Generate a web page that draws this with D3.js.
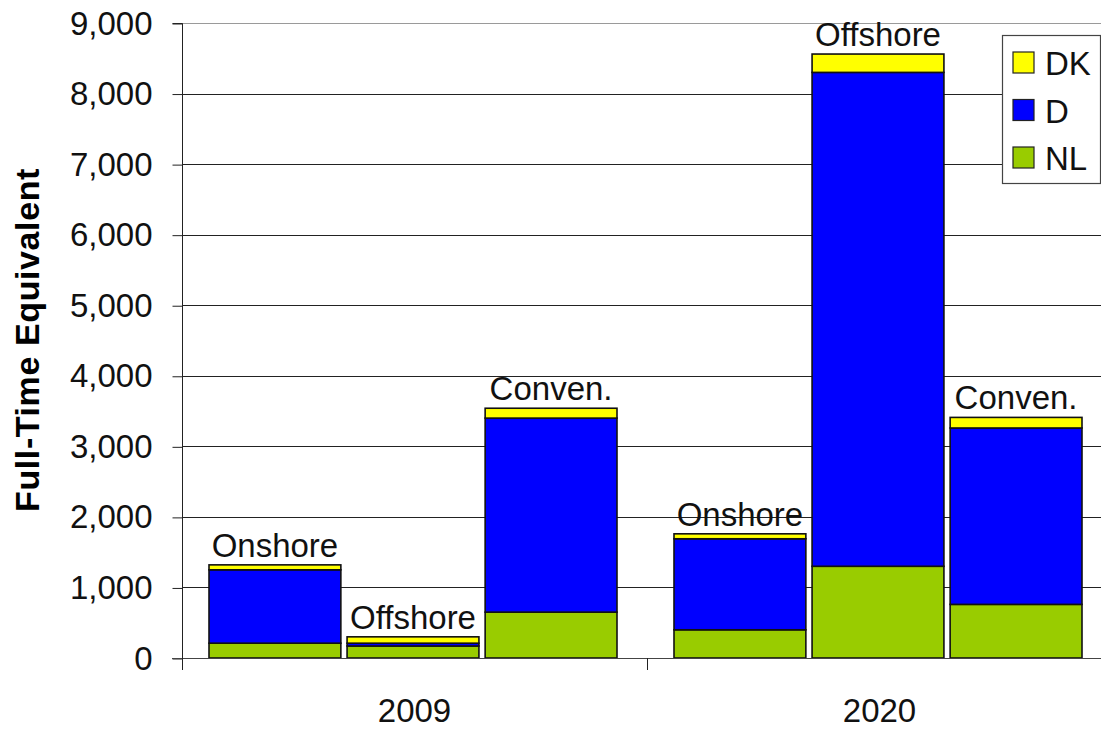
<!DOCTYPE html>
<html>
<head>
<meta charset="utf-8">
<script src="https://cdn.jsdelivr.net/npm/d3@7/dist/d3.min.js"></script>
<style>
  html, body { margin: 0; padding: 0; background: #fff; }
  svg { display: block; font-family: "Liberation Sans", Arial, sans-serif; }
</style>
</head>
<body>
<svg id="chart" width="1101" height="729"></svg>
<script>
// Employment (full-time equivalent) by year, sector and country
const years = ["2009", "2020"];
const sectors = ["Onshore", "Offshore", "Conven."];
const seriesNames = ["NL", "D", "DK"];          // stacked bottom → top
const seriesColors = ["#99CC00", "#0000FF", "#FFFF00"];
// values listed per year, per sector: 2009 Onshore, Offshore, Conven., 2020 Onshore, Offshore, Conven.
const valuesNL = [210, 170, 650, 400, 1300, 760];
const valuesD  = [1040, 40, 2750, 1290, 7000, 2500];
const valuesDK = [70, 90, 140, 70, 260, 150];
const yTicks = [0, 1000, 2000, 3000, 4000, 5000, 6000, 7000, 8000, 9000];
const legendOrder = ["DK", "D", "NL"];

const svg = d3.select("#chart");
const W = 1101;

// rows for the stack
const rows = [];
years.forEach((yr, i) => sectors.forEach((s, j) => {
  const k = i * sectors.length + j;
  rows.push({ year: yr, sector: s, NL: valuesNL[k], D: valuesD[k], DK: valuesDK[k] });
}));

const x0 = d3.scaleBand().domain(years).range([182, 1112]).padding(0);
const x1 = d3.scaleBand().domain(sectors).range([27, 435]).paddingInner(0.045).paddingOuter(0);
const y = d3.scaleLinear().domain([0, 9000]).range([658, 23]);

const fmt = d3.format(",");

// horizontal gridlines
svg.append("g").selectAll("line").data(yTicks.filter(d => d > 0)).join("line")
  .attr("x1", 182).attr("x2", W)
  .attr("y1", d => Math.round(y(d)) + 0.5).attr("y2", d => Math.round(y(d)) + 0.5)
  .attr("stroke", d => d === 9000 ? "#9a9a9a" : "#222").attr("stroke-width", 1);

// y axis
const yAxis = d3.axisLeft(y).tickValues(yTicks).tickFormat(fmt).tickSize(10).tickPadding(20);
const gy = svg.append("g").attr("transform", "translate(182.5,0.5)").call(yAxis);
gy.select(".domain").attr("stroke", "#222").attr("d", `M-10,${y(9000)}H0V${y(0)}`);
gy.selectAll(".tick line").attr("stroke", "#222");
gy.selectAll(".tick text").attr("font-size", 33).attr("fill", "#111")
  .attr("font-family", "Liberation Sans, Arial, sans-serif");

// stacked bars
const stack = d3.stack().keys(seriesNames);
const layers = stack(rows);
const gBars = svg.append("g");
layers.forEach((layer, li) => {
  gBars.append("g").selectAll("rect").data(layer).join("rect")
    .attr("x", d => x0(d.data.year) + x1(d.data.sector))
    .attr("width", x1.bandwidth())
    .attr("y", d => y(d[1]))
    .attr("height", d => y(d[0]) - y(d[1]))
    .attr("fill", seriesColors[li])
    .attr("stroke", "#111").attr("stroke-width", 1.6);
});

// x axis baseline and category ticks
svg.append("line").attr("x1", 172).attr("x2", W)
  .attr("y1", y(0) + 0.5).attr("y2", y(0) + 0.5).attr("stroke", "#444").attr("stroke-width", 1.2);
svg.append("g").selectAll("line").data(years.concat(["end"])).join("line")
  .attr("x1", (d, i) => 182.5 + i * x0.bandwidth()).attr("x2", (d, i) => 182.5 + i * x0.bandwidth())
  .attr("y1", y(0)).attr("y2", y(0) + 12).attr("stroke", "#222");

// year labels
svg.append("g").selectAll("text").data(years).join("text")
  .attr("x", d => x0(d) + x0.bandwidth() / 2)
  .attr("y", 722).attr("text-anchor", "middle")
  .attr("font-size", 33).attr("fill", "#111").text(d => d);

// sector labels above each bar
svg.append("g").selectAll("text").data(rows).join("text")
  .attr("x", d => x0(d.year) + x1(d.sector) + x1.bandwidth() / 2)
  .attr("y", d => y(d.NL + d.D + d.DK) - 8)
  .attr("text-anchor", "middle").attr("font-size", 33).attr("fill", "#111")
  .text(d => d.sector);

// y axis title
svg.append("text").attr("transform", "translate(39,340) rotate(-90)")
  .attr("text-anchor", "middle").attr("font-size", 34).attr("font-weight", "bold")
  .attr("letter-spacing", 0.6).attr("fill", "#000").text("Full-Time Equivalent");

// legend
const lg = svg.append("g");
lg.append("rect").attr("x", 1002.5).attr("y", 35.5).attr("width", 98).attr("height", 148)
  .attr("fill", "#fff").attr("stroke", "#444").attr("stroke-width", 1.2);
const colorOf = name => seriesColors[seriesNames.indexOf(name)];
const item = lg.selectAll("g.item").data(legendOrder).join("g")
  .attr("transform", (d, i) => `translate(1013,${63 + i * 47.5})`);
item.append("rect").attr("x", 0).attr("y", -11).attr("width", 21).attr("height", 21)
  .attr("fill", d => colorOf(d)).attr("stroke", "#222").attr("stroke-width", 1.2);
item.append("text").attr("x", 32).attr("y", 12).attr("font-size", 33).attr("fill", "#111")
  .text(d => d);
</script>
</body>
</html>
